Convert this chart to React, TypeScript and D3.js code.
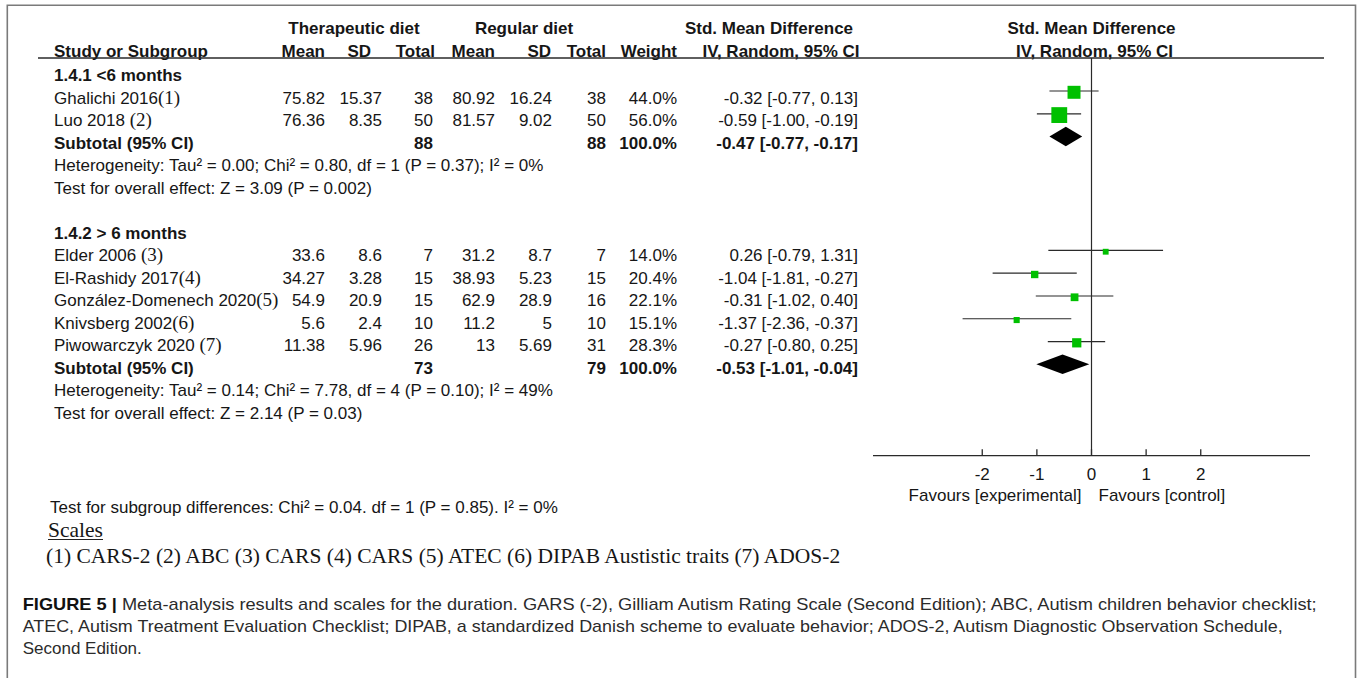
import React from "react";
import * as d3 from "d3";

// ---------- data ----------
const studyNames = ["Ghalichi 2016", "Luo 2018 ", "Elder 2006 ", "El-Rashidy 2017", "González-Domenech 2020", "Knivsberg 2002", "Piwowarczyk 2020 "];
const studyNotes = ["(1)", "(2)", "(3)", "(4)", "(5)", "(6)", "(7)"];
const studyGroup = [0, 0, 1, 1, 1, 1, 1];
const therMean = [75.82, 76.36, 33.6, 34.27, 54.9, 5.6, 11.38];
const therSD = [15.37, 8.35, 8.6, 3.28, 20.9, 2.4, 5.96];
const therN = [38, 50, 7, 15, 15, 10, 26];
const regMean = [80.92, 81.57, 31.2, 38.93, 62.9, 11.2, 13];
const regSD = [16.24, 9.02, 8.7, 5.23, 28.9, 5, 5.69];
const regN = [38, 50, 7, 15, 16, 10, 31];
const weights = [44.0, 56.0, 14.0, 20.4, 22.1, 15.1, 28.3];
const smd = [-0.32, -0.59, 0.26, -1.04, -0.31, -1.37, -0.27];
const ciLow = [-0.77, -1.0, -0.79, -1.81, -1.02, -2.36, -0.8];
const ciHigh = [0.13, -0.19, 1.31, -0.27, 0.4, -0.37, 0.25];

const groupLabels = ["1.4.1 <6 months", "1.4.2 > 6 months"];
const groupTherN = [88, 73];
const groupRegN = [88, 79];
const groupWeight = [100.0, 100.0];
const groupSmd = [-0.47, -0.53];
const groupLow = [-0.77, -1.01];
const groupHigh = [-0.17, -0.04];
const heterogeneity = [
  "Heterogeneity: Tau² = 0.00; Chi² = 0.80, df = 1 (P = 0.37); I² = 0%",
  "Heterogeneity: Tau² = 0.14; Chi² = 7.78, df = 4 (P = 0.10); I² = 49%",
];
const overallEffect = [
  "Test for overall effect: Z = 3.09 (P = 0.002)",
  "Test for overall effect: Z = 2.14 (P = 0.03)",
];
const axisTicks = [-2, -1, 0, 1, 2];
const axisDomain = [-4, 4];
const subgroupTest = "Test for subgroup differences: Chi² = 0.04. df = 1 (P = 0.85). I² = 0%";
const scalesTitle = "Scales";
const scalesText = "(1) CARS-2 (2) ABC (3) CARS (4) CARS (5) ATEC (6) DIPAB Austistic traits (7) ADOS-2";
const captionBold = "FIGURE 5 |";
const captionLines = [
  " Meta-analysis results and scales for the duration. GARS (-2), Gilliam Autism Rating Scale (Second Edition); ABC, Autism children behavior checklist;",
  "ATEC, Autism Treatment Evaluation Checklist; DIPAB, a standardized Danish scheme to evaluate behavior; ADOS-2, Autism Diagnostic Observation Schedule,",
  "Second Edition.",
];

// ---------- styling ----------
const SANS = "'Liberation Sans', Arial, Helvetica, sans-serif";
const SERIF = "'Liberation Serif', 'Times New Roman', serif";
const FS = 17;
const TXT = "#161616";
const LINE = "#2a2a2a";
const GREEN = "#00c000";

const col = { name: 54, tMean: 325, tSD: 382, tN: 433, rMean: 495, rSD: 552, rN: 606, w: 677, ci: 858 };

const f2 = (v: number) => v.toFixed(2);
const ciText = (m: number, l: number, h: number) => `${f2(m)} [${f2(l)}, ${f2(h)}]`;

type Row =
  | { kind: "group"; r: number; g: number }
  | { kind: "study"; r: number; i: number }
  | { kind: "subtotal"; r: number; g: number }
  | { kind: "het"; r: number; g: number }
  | { kind: "test"; r: number; g: number };

function buildRows(): Row[] {
  const rows: Row[] = [];
  let r = 0;
  groupLabels.forEach((_, g) => {
    rows.push({ kind: "group", r: r++, g });
    studyGroup.forEach((sg, i) => {
      if (sg === g) rows.push({ kind: "study", r: r++, i });
    });
    rows.push({ kind: "subtotal", r: r++, g });
    rows.push({ kind: "het", r: r++, g });
    rows.push({ kind: "test", r: r++, g });
    r++;
  });
  return rows;
}

export default function App() {
  const rows = buildRows();
  const x = d3.scaleLinear().domain(axisDomain).range([873, 1310]);
  const textY = d3.scaleLinear().domain([0, 15]).range([75, 412.5]); // text centre
  const markY = d3.scaleLinear().domain([1, 13]).range([91, 364.3]);
  const boxSize = d3.scaleLinear().domain([0, 100]).range([2.5, 26.3]);
  const axisY = 455.7;
  const headerLineY = 58;
  const base = (r: number) => textY(r) + 6.1;

  const numText = (v: string | number, xx: number, r: number, bold = false, key?: string) => (
    <text key={key} x={xx} y={base(r)} textAnchor="end" fontWeight={bold ? "bold" : "normal"}>
      {v}
    </text>
  );

  return (
    <svg
      width={1357}
      height={678}
      style={{ position: "absolute", left: 0, top: 0, background: "#fff" }}
      fontFamily={SANS}
      fontSize={FS}
      fill={TXT}
    >
      <rect x={0} y={0} width={1357} height={678} fill="#fff" />
      {/* frame */}
      <path d="M7.3,680 V5.3 H1355.5 V680" fill="none" stroke="#7a7a7a" strokeWidth={1.6} />

      {/* headers */}
      <g fontWeight="bold">
        <text x={354} y={33.5} textAnchor="middle">Therapeutic diet</text>
        <text x={524} y={33.5} textAnchor="middle">Regular diet</text>
        <text x={769} y={33.5} textAnchor="middle">Std. Mean Difference</text>
        <text x={x(0)} y={33.5} textAnchor="middle">Std. Mean Difference</text>
        <text x={col.name} y={56.5}>Study or Subgroup</text>
        <text x={325} y={56.5} textAnchor="end">Mean</text>
        <text x={371} y={56.5} textAnchor="end">SD</text>
        <text x={435} y={56.5} textAnchor="end">Total</text>
        <text x={495} y={56.5} textAnchor="end">Mean</text>
        <text x={551} y={56.5} textAnchor="end">SD</text>
        <text x={606} y={56.5} textAnchor="end">Total</text>
        <text x={677} y={56.5} textAnchor="end">Weight</text>
        <text x={781} y={56.5} textAnchor="middle">IV, Random, 95% CI</text>
        <text x={x(0) + 3} y={56.5} textAnchor="middle">IV, Random, 95% CI</text>
      </g>
      <line x1={38} x2={1324} y1={headerLineY} y2={headerLineY} stroke={LINE} strokeWidth={1.3} />

      {/* table rows */}
      {rows.map((row) => {
        const r = row.r;
        if (row.kind === "group")
          return (
            <text key={"g" + r} x={col.name} y={base(r)} fontWeight="bold">
              {groupLabels[row.g]}
            </text>
          );
        if (row.kind === "study") {
          const i = row.i;
          return (
            <g key={"s" + r}>
              <text x={col.name} y={base(r)}>
                {studyNames[i]}
                <tspan fontFamily={SERIF} fontSize={19}>{studyNotes[i]}</tspan>
              </text>
              {numText(String(therMean[i]), col.tMean, r)}
              {numText(String(therSD[i]), col.tSD, r)}
              {numText(therN[i], col.tN, r)}
              {numText(String(regMean[i]), col.rMean, r)}
              {numText(String(regSD[i]), col.rSD, r)}
              {numText(regN[i], col.rN, r)}
              {numText(weights[i].toFixed(1) + "%", col.w, r)}
              {numText(ciText(smd[i], ciLow[i], ciHigh[i]), col.ci, r)}
            </g>
          );
        }
        if (row.kind === "subtotal") {
          const g = row.g;
          return (
            <g key={"t" + r} fontWeight="bold">
              <text x={col.name} y={base(r)}>Subtotal (95% CI)</text>
              {numText(groupTherN[g], col.tN, r, true)}
              {numText(groupRegN[g], col.rN, r, true)}
              {numText(groupWeight[g].toFixed(1) + "%", col.w, r, true)}
              {numText(ciText(groupSmd[g], groupLow[g], groupHigh[g]), col.ci, r, true)}
            </g>
          );
        }
        if (row.kind === "het")
          return (
            <text key={"h" + r} x={col.name} y={base(r)}>
              {heterogeneity[row.g]}
            </text>
          );
        return (
          <text key={"o" + r} x={col.name} y={base(r)}>
            {overallEffect[row.g]}
          </text>
        );
      })}

      {/* forest plot */}
      <line x1={x(0)} x2={x(0)} y1={headerLineY} y2={axisY} stroke={LINE} strokeWidth={1.2} />
      {rows.map((row) => {
        if (row.kind === "study") {
          const i = row.i;
          const y = markY(row.r);
          const s = boxSize(weights[i]);
          return (
            <g key={"f" + row.r}>
              <line x1={x(ciLow[i])} x2={x(ciHigh[i])} y1={y} y2={y} stroke={LINE} strokeWidth={1.2} />
              <rect x={x(smd[i]) - s / 2} y={y + 1.3 - s / 2} width={s} height={s} fill={GREEN} />
            </g>
          );
        }
        if (row.kind === "subtotal") {
          const g = row.g;
          const y = markY(row.r);
          const h = 9.7;
          const d = `M${x(groupLow[g])},${y} L${x(groupSmd[g])},${y - h} L${x(groupHigh[g])},${y} L${x(groupSmd[g])},${y + h} Z`;
          return <path key={"d" + row.r} d={d} fill="#000" />;
        }
        return null;
      })}

      {/* axis */}
      <line x1={x(axisDomain[0])} x2={x(axisDomain[1])} y1={axisY} y2={axisY} stroke={LINE} strokeWidth={1.3} />
      {axisTicks.map((t) => (
        <g key={"tk" + t}>
          <line x1={x(t)} x2={x(t)} y1={axisY} y2={axisY - 6.5} stroke={LINE} strokeWidth={1.3} />
          <text x={x(t)} y={480} textAnchor="middle">
            {t}
          </text>
        </g>
      ))}
      <text x={x(0) - 10} y={501} textAnchor="end">Favours [experimental]</text>
      <text x={x(0) + 7} y={501}>Favours [control]</text>

      {/* bottom notes */}
      <text x={50} y={513}>{subgroupTest}</text>
      <text x={48} y={537} fontFamily={SERIF} fontSize={21.5}>{scalesTitle}</text>
      <line x1={48} x2={48 + 55} y1={539.5} y2={539.5} stroke="#222" strokeWidth={1} />
      <text x={46} y={563} fontFamily={SERIF} fontSize={21.5}>{scalesText}</text>

      {/* caption */}
      <g fontSize={17} fill="#2b2b2b">
        <text x={22.7} y={610} textLength={1294} lengthAdjust="spacingAndGlyphs">
          <tspan fontWeight="bold" fill="#111">{captionBold}</tspan>
          {captionLines[0]}
        </text>
        <text x={22.7} y={632} textLength={1260} lengthAdjust="spacingAndGlyphs">{captionLines[1]}</text>
        <text x={22.7} y={654}>{captionLines[2]}</text>
      </g>
    </svg>
  );
}
